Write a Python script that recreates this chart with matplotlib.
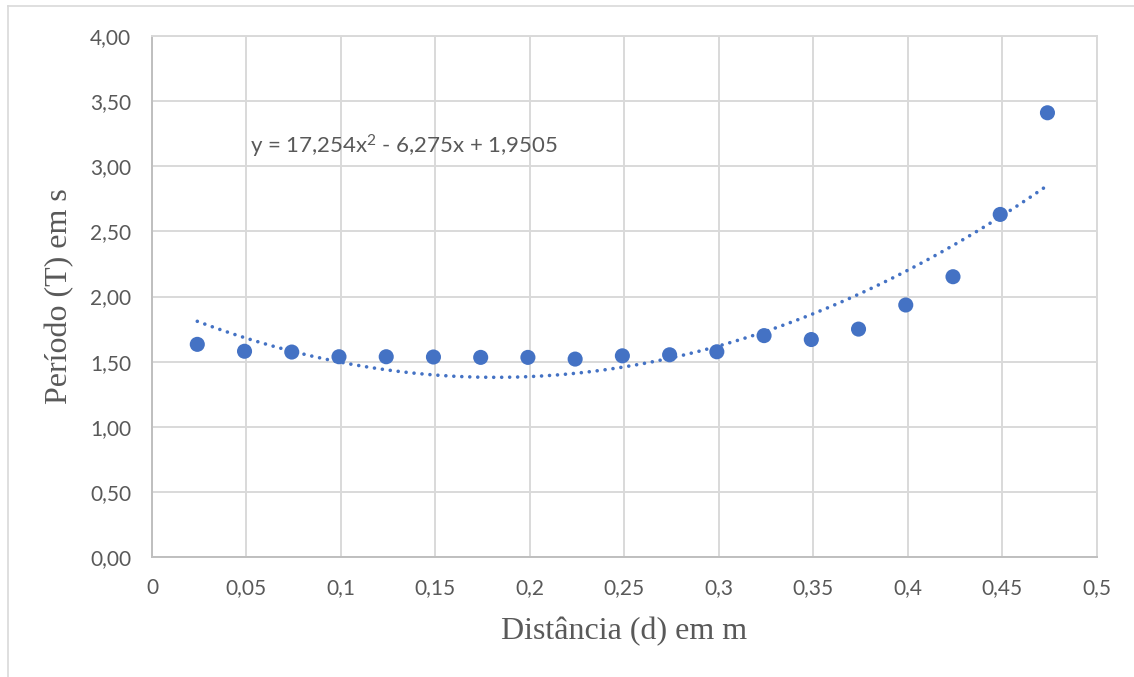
import numpy as np
import matplotlib.pyplot as plt
from matplotlib.lines import Line2D
from matplotlib.ticker import FuncFormatter

plt.rcParams['mathtext.fontset'] = 'custom'
plt.rcParams['mathtext.rm'] = 'Lato'
plt.rcParams['mathtext.it'] = 'Lato'

# distância (m) e período (s)
distancia = [0.024, 0.049, 0.074, 0.099, 0.124, 0.149, 0.174, 0.199, 0.224, 0.249,
             0.274, 0.299, 0.324, 0.349, 0.374, 0.399, 0.424, 0.449, 0.474]
periodo = [1.633, 1.58, 1.574, 1.538, 1.538, 1.536, 1.533, 1.533, 1.52, 1.545,
           1.553, 1.576, 1.70, 1.67, 1.75, 1.935, 2.152, 2.63, 3.41]

# coeficientes da linha de tendência polinomial (grau 2)
coef = [17.254, -6.275, 1.9505]
equacao = "y = 17,254x$^{\\mathrm{2}}$ - 6,275x + 1,9505"

azul = "#4472C4"
cinza_grade = "#d9d9d9"
cinza_texto = "#595959"

fig = plt.figure(figsize=(11.34, 6.77), dpi=100)
ax = fig.add_axes([0.134, 0.177, 0.833, 0.770])

xs = np.linspace(min(distancia), max(distancia), 200)
ax.plot(xs, np.polyval(coef, xs), color=azul, linewidth=2.6,
        linestyle=(0, (0.01, 2.2)), dash_capstyle='round', zorder=3)
ax.scatter(distancia, periodo, s=118, color=azul, zorder=4, edgecolors='none')

ax.set_xlim(0, 0.5)
ax.set_ylim(0, 4)
ax.set_xticks(np.arange(0, 0.51, 0.05))
ax.set_yticks(np.arange(0, 4.01, 0.5))
ax.xaxis.set_major_formatter(FuncFormatter(lambda v, p: f"{v:g}".replace('.', ',')))
ax.yaxis.set_major_formatter(FuncFormatter(lambda v, p: f"{v:.2f}".replace('.', ',')))
ax.grid(True, color=cinza_grade, linewidth=1.4)
ax.set_axisbelow(True)
ax.tick_params(length=0, labelsize=15, labelcolor=cinza_texto)
ax.tick_params(axis='x', pad=15)
ax.tick_params(axis='y', pad=15)
for lab in ax.get_xticklabels() + ax.get_yticklabels():
    lab.set_family('Lato')
for side in ['top', 'right']:
    ax.spines[side].set_color(cinza_grade)
    ax.spines[side].set_linewidth(1.4)
for side in ['left', 'bottom']:
    ax.spines[side].set_color('#bfbfbf')
    ax.spines[side].set_linewidth(1.4)

ax.set_xlabel("Distância (d) em m", family='Liberation Serif', fontsize=23,
              color=cinza_texto, va='center')
ax.set_ylabel("Período (T) em s", family='Liberation Serif', fontsize=23,
              color=cinza_texto, va='center')
ax.xaxis.set_label_coords(0.5, -0.142)
ax.yaxis.set_label_coords(-0.098, 0.5)

ax.text(0.052, 3.15, equacao, family='Lato', fontsize=16, color=cinza_texto,
        va='center', ha='left')

# moldura do gráfico
fig.add_artist(Line2D([0.007, 0.007], [0, 0.991], color=cinza_grade, linewidth=1.2))
fig.add_artist(Line2D([0.007, 1], [0.991, 0.991], color=cinza_grade, linewidth=1.2))

fig.savefig("out.png", dpi=100)
